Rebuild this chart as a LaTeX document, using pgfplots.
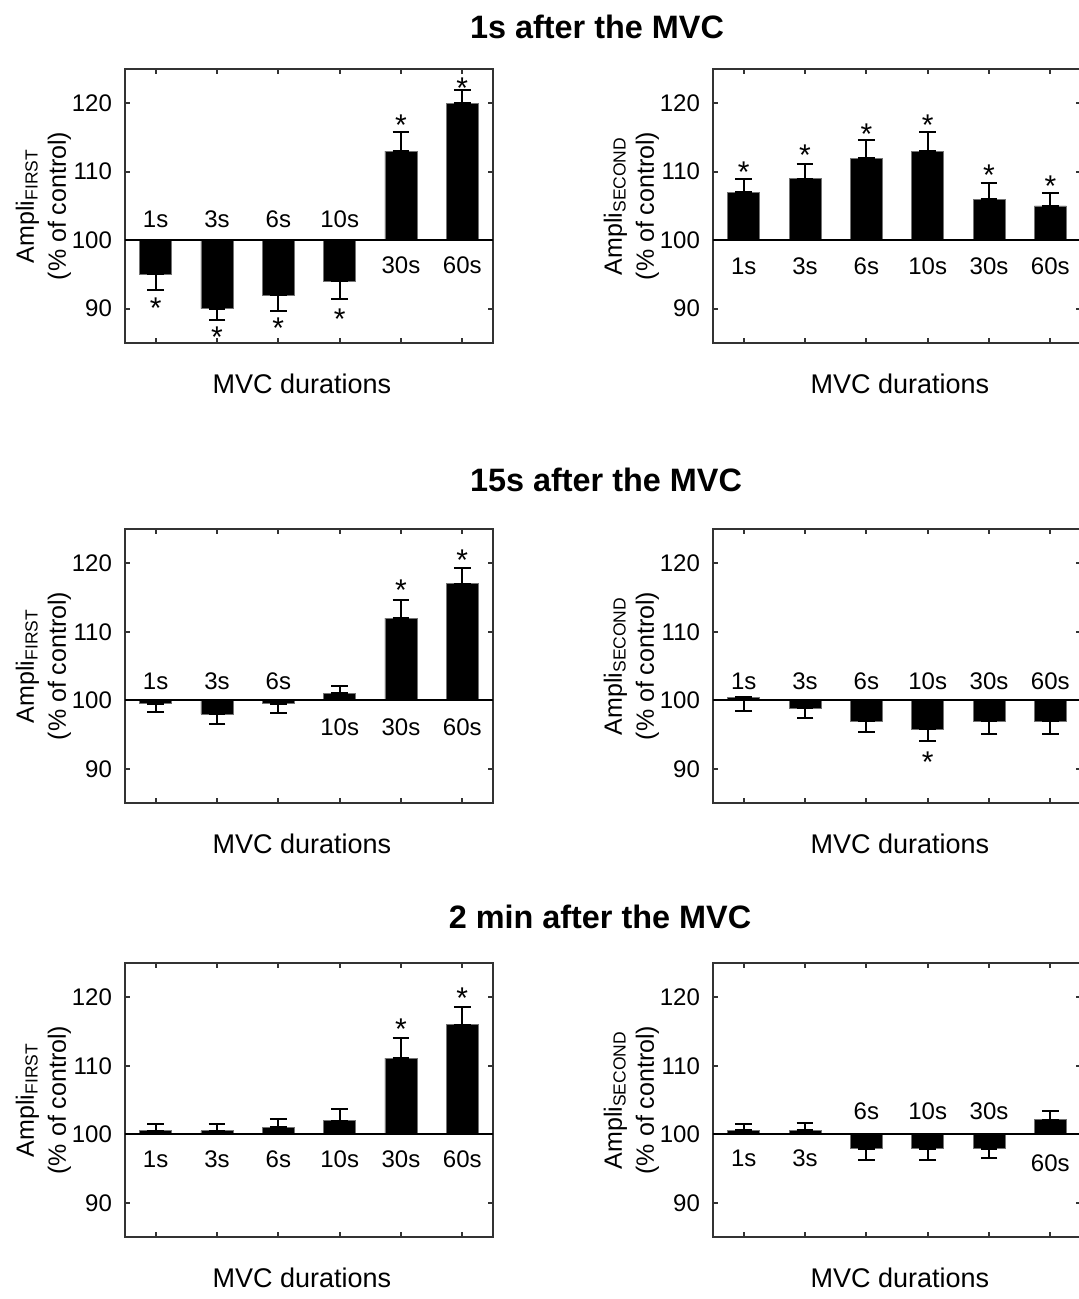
\documentclass[border=0pt]{standalone}
\usepackage{fontspec}
\setmainfont{Liberation Sans}
\usepackage{pgfplots}
\pgfplotsset{compat=1.18}

\newcommand\lblfont{\fontsize{12}{14}\selectfont}
\pgfplotsset{
  panel/.style={
    width=184pt, height=137pt, scale only axis, anchor=south west,
    xmin=0.5, xmax=6.5, ymin=85, ymax=125,
    y coord trafo/.code={\pgfmathparse{##1-100}},
    y coord inv trafo/.code={\pgfmathparse{##1+100}},
    xtick={1,...,6}, xticklabels={},
    ytick={90,100,110,120}, yticklabels={90,100,110,120},
    tick align=inside, major tick length=2.5pt,
    axis line style={line width=1pt, draw=black!80},
    tick style={line width=1pt, draw=black!80},
    yticklabel style={font=\lblfont, xshift=-3pt},
    /pgf/number format/assume math mode=true,
    ylabel style={align=center, font=\fontsize{12.5}{16}\selectfont,
      at={(axis description cs:-0.222,0.5)}, anchor=center},
    xlabel={MVC durations},
    xlabel style={font=\fontsize{13.5}{16}\selectfont, anchor=center},
  },
  bars/.style={ybar, bar width=16pt, bar shift=0pt, fill=black,
    draw=black!55, line width=0.4pt,
    error bars/.cd, y dir=both, y explicit,
    error bar style={line width=1pt, draw=black},
    error mark options={rotate=90, line width=1pt, mark size=4.2pt, draw=black}},
  labs/.style={only marks, mark=none, nodes near coords,
    point meta=explicit symbolic,
    nodes near coords style={anchor=center, font=\lblfont, inner sep=0pt}},
  stars/.style={only marks, mark=none, nodes near coords,
    point meta=explicit symbolic,
    nodes near coords style={anchor=center, font=\fontsize{15}{16}\selectfont,
      inner sep=0pt, yshift=-3pt}},
  zero/.style={black, line width=0.75pt, mark=none, sharp plot},
}

\begin{document}
\begin{tikzpicture}
% ---------- 1s after the MVC ----------
\node[font=\bfseries\fontsize{16.2}{19}\selectfont] at (298.5pt,636pt) {1s after the MVC};
\begin{axis}[panel, at={(62.5pt,478pt)},
  ylabel={Ampli\textsubscript{FIRST}\\(\% of control)},
  xlabel style={at={(axis description cs:0.481,-0.15)}}]
\addplot[bars] table[x=x, y=y, y error plus=ep, y error minus=em] {
x y ep em
1 95 0 2.3
2 90 0 1.7
3 92 0 2.3
4 94 0 2.6
5 113 2.8 0
6 120 1.9 0
};
\addplot[zero] coordinates {(0.5,100) (6.5,100)};
\addplot[labs] table[meta=lab] {
x y lab
1 103.1 1s
2 103.1 3s
3 103.1 6s
4 103.1 10s
5 96.3 30s
6 96.3 60s
};
\addplot[stars] table[meta=lab] {
x y lab
1 90.9 *
2 86.7 *
3 88.0 *
4 89.3 *
5 117.6 *
6 123.1 *
};
\end{axis}
\begin{axis}[panel, at={(356.5pt,478pt)},
  ylabel={Ampli\textsubscript{SECOND}\\(\% of control)},
  xlabel style={at={(axis description cs:0.508,-0.15)}}]
\addplot[bars] table[x=x, y=y, y error plus=ep, y error minus=em] {
x y ep em
1 107 2.0 0
2 109 2.2 0
3 112 2.6 0
4 113 2.8 0
5 106 2.3 0
6 105 1.9 0
};
\addplot[zero] coordinates {(0.5,100) (6.5,100)};
\addplot[labs] table[meta=lab] {
x y lab
1 96.2 1s
2 96.2 3s
3 96.2 6s
4 96.2 10s
5 96.2 30s
6 96.2 60s
};
\addplot[stars] table[meta=lab] {
x y lab
1 110.8 *
2 113.3 *
3 116.4 *
4 117.7 *
5 110.3 *
6 108.8 *
};
\end{axis}

% ---------- 15s after the MVC ----------
\node[font=\bfseries\fontsize{16.2}{19}\selectfont] at (303pt,409.5pt) {15s after the MVC};
\begin{axis}[panel, at={(62.5pt,248pt)},
  ylabel={Ampli\textsubscript{FIRST}\\(\% of control)},
  xlabel style={at={(axis description cs:0.481,-0.15)}}]
\addplot[bars] table[x=x, y=y, y error plus=ep, y error minus=em] {
x y ep em
1 99.5 0 1.2
2 98.0 0 1.5
3 99.5 0 1.4
4 101.0 1.1 0
5 112 2.6 0
6 117 2.3 0
};
\addplot[zero] coordinates {(0.5,100) (6.5,100)};
\addplot[labs] table[meta=lab] {
x y lab
1 102.8 1s
2 102.8 3s
3 102.8 6s
4 96.1 10s
5 96.1 30s
6 96.1 60s
};
\addplot[stars] table[meta=lab] {
x y lab
5 117.0 *
6 121.3 *
};
\end{axis}
\begin{axis}[panel, at={(356.5pt,248pt)},
  ylabel={Ampli\textsubscript{SECOND}\\(\% of control)},
  xlabel style={at={(axis description cs:0.508,-0.15)}}]
\addplot[bars] table[x=x, y=y, y error plus=ep, y error minus=em] {
x y ep em
1 100.4 0 2.0
2 98.8 0 1.4
3 96.9 0 1.5
4 95.8 0 1.7
5 96.9 0 1.8
6 96.9 0 1.8
};
\addplot[zero] coordinates {(0.5,100) (6.5,100)};
\addplot[labs] table[meta=lab] {
x y lab
1 102.8 1s
2 102.8 3s
3 102.8 6s
4 102.8 10s
5 102.8 30s
6 102.8 60s
};
\addplot[stars] table[meta=lab] {
x y lab
4 91.9 *
};
\end{axis}

% ---------- 2 min after the MVC ----------
\node[font=\bfseries\fontsize{16.2}{19}\selectfont] at (300pt,191pt) {2 min after the MVC};
\begin{axis}[panel, at={(62.5pt,31pt)},
  ylabel={Ampli\textsubscript{FIRST}\\(\% of control)},
  xlabel style={at={(axis description cs:0.481,-0.15)}}]
\addplot[bars] table[x=x, y=y, y error plus=ep, y error minus=em] {
x y ep em
1 100.5 1.0 0
2 100.5 1.0 0
3 101.0 1.2 0
4 102.0 1.7 0
5 111.1 2.9 0
6 116.0 2.6 0
};
\addplot[zero] coordinates {(0.5,100) (6.5,100)};
\addplot[labs] table[meta=lab] {
x y lab
1 96.3 1s
2 96.3 3s
3 96.3 6s
4 96.3 10s
5 96.3 30s
6 96.3 60s
};
\addplot[stars] table[meta=lab] {
x y lab
5 116.2 *
6 120.7 *
};
\end{axis}
\begin{axis}[panel, at={(356.5pt,31pt)},
  ylabel={Ampli\textsubscript{SECOND}\\(\% of control)},
  xlabel style={at={(axis description cs:0.508,-0.15)}}]
\addplot[bars] table[x=x, y=y, y error plus=ep, y error minus=em] {
x y ep em
1 100.6 0.9 0
2 100.6 1.1 0
3 97.9 0 1.7
4 97.9 0 1.7
5 97.9 0 1.4
6 102.1 1.3 0
};
\addplot[zero] coordinates {(0.5,100) (6.5,100)};
\addplot[labs] table[meta=lab] {
x y lab
1 96.5 1s
2 96.5 3s
3 103.3 6s
4 103.3 10s
5 103.3 30s
6 95.8 60s
};
\end{axis}

\pgfresetboundingbox
\useasboundingbox (0,0) rectangle (539.5pt,649.5pt);
\end{tikzpicture}
\end{document}
